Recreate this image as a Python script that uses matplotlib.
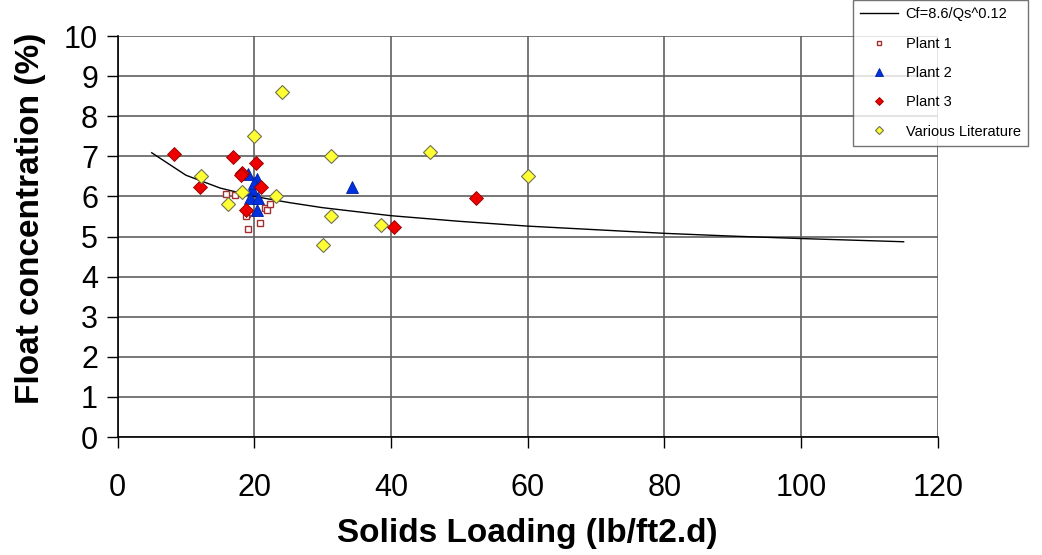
"""Float concentration vs solids loading scatter with fitted curve."""

import matplotlib
matplotlib.use("Agg")
import matplotlib.pyplot as plt

plt.rcParams['font.family'] = ['Liberation Sans', 'DejaVu Sans']

# fitted curve Cf = 8.6/Qs^0.12
curve_x = [5, 10, 15, 20, 25, 30, 40, 50, 60, 70, 80, 90, 100, 115]
curve_y = [7.09, 6.53, 6.21, 6.00, 5.85, 5.72, 5.52, 5.38, 5.26, 5.17, 5.08, 5.01, 4.95, 4.87]

plant1_x = [15.9, 17.2, 18.9, 19.2, 18.8, 19.1, 20.8, 21.6, 21.9, 22.3]
plant1_y = [6.07, 6.04, 5.57, 5.60, 5.50, 5.20, 5.35, 5.72, 5.65, 5.80]

plant2_x = [19.1, 20.4, 19.7, 19.4, 20.5, 20.4, 20.0, 34.3]
plant2_y = [6.57, 6.44, 6.19, 5.97, 5.95, 5.65, 6.34, 6.24]

plant3_x = [8.3, 16.9, 20.3, 18.2, 18.0, 12.1, 21.0, 18.8, 52.5, 40.4]
plant3_y = [7.07, 6.99, 6.84, 6.59, 6.54, 6.24, 6.24, 5.67, 5.97, 5.25]

lit_x = [24.0, 20.0, 31.2, 45.7, 60.0, 12.2, 18.2, 23.2, 16.2, 31.3, 38.5, 30.1]
lit_y = [8.61, 7.51, 7.01, 7.11, 6.52, 6.52, 6.12, 6.02, 5.82, 5.52, 5.30, 4.80]

fig = plt.figure(figsize=(10.42, 5.55), dpi=100)
ax = fig.add_axes([0.1128, 0.2126, 0.7872, 0.7224])

ax.plot(curve_x, curve_y, color='black', linewidth=1.0, label='Cf=8.6/Qs^0.12', zorder=3)
ax.plot(plant1_x, plant1_y, linestyle='none', marker='s', markersize=4.5,
        markerfacecolor='white', markeredgecolor='#a03030', markeredgewidth=1.0,
        label='Plant 1', zorder=4)
ax.plot(plant2_x, plant2_y, linestyle='none', marker='^', markersize=9,
        markerfacecolor='#0030e0', markeredgecolor='#0020a0', markeredgewidth=0.6,
        label='Plant 2', zorder=5)
ax.plot(plant3_x, plant3_y, linestyle='none', marker='D', markersize=7,
        markerfacecolor='#ee0000', markeredgecolor='#900000', markeredgewidth=0.6,
        label='Plant 3', zorder=6)
ax.plot(lit_x, lit_y, linestyle='none', marker='D', markersize=7,
        markerfacecolor='#ffff33', markeredgecolor='#707050', markeredgewidth=0.8,
        label='Various Literature', zorder=6)

ax.set_xlim(0, 120)
ax.set_ylim(0, 10)
ax.set_xticks(range(0, 121, 20))
ax.set_yticks(range(0, 11))
ax.grid(True, color='#606060', linewidth=1.2)
ax.set_axisbelow(True)
for side in ['top', 'right']:
    ax.spines[side].set_visible(False)
for side in ['left', 'bottom']:
    ax.spines[side].set_color('black')
    ax.spines[side].set_linewidth(1.2)
ax.tick_params(axis='both', direction='out', length=8, width=1.0, labelsize=22)
ax.tick_params(axis='x', pad=18)
ax.tick_params(axis='y', pad=6)

ax.set_xlabel('Solids Loading (lb/ft2.d)', fontsize=24, fontweight='bold', labelpad=11)
ax.set_ylabel('Float concentration (%)', fontsize=24, fontweight='bold')
ax.yaxis.set_label_coords(-0.087, 0.545)

leg = fig.legend(loc='upper left', bbox_to_anchor=(853 / 1042, 1.0), fontsize=10.5,
                 frameon=True, fancybox=False, markerscale=0.6, labelspacing=1.05,
                 handlelength=2.6, handletextpad=0.5, borderpad=0.5, borderaxespad=0)
leg.get_frame().set_edgecolor('#505050')
leg.get_frame().set_linewidth(1.0)

fig.savefig('out.png', dpi=100)
